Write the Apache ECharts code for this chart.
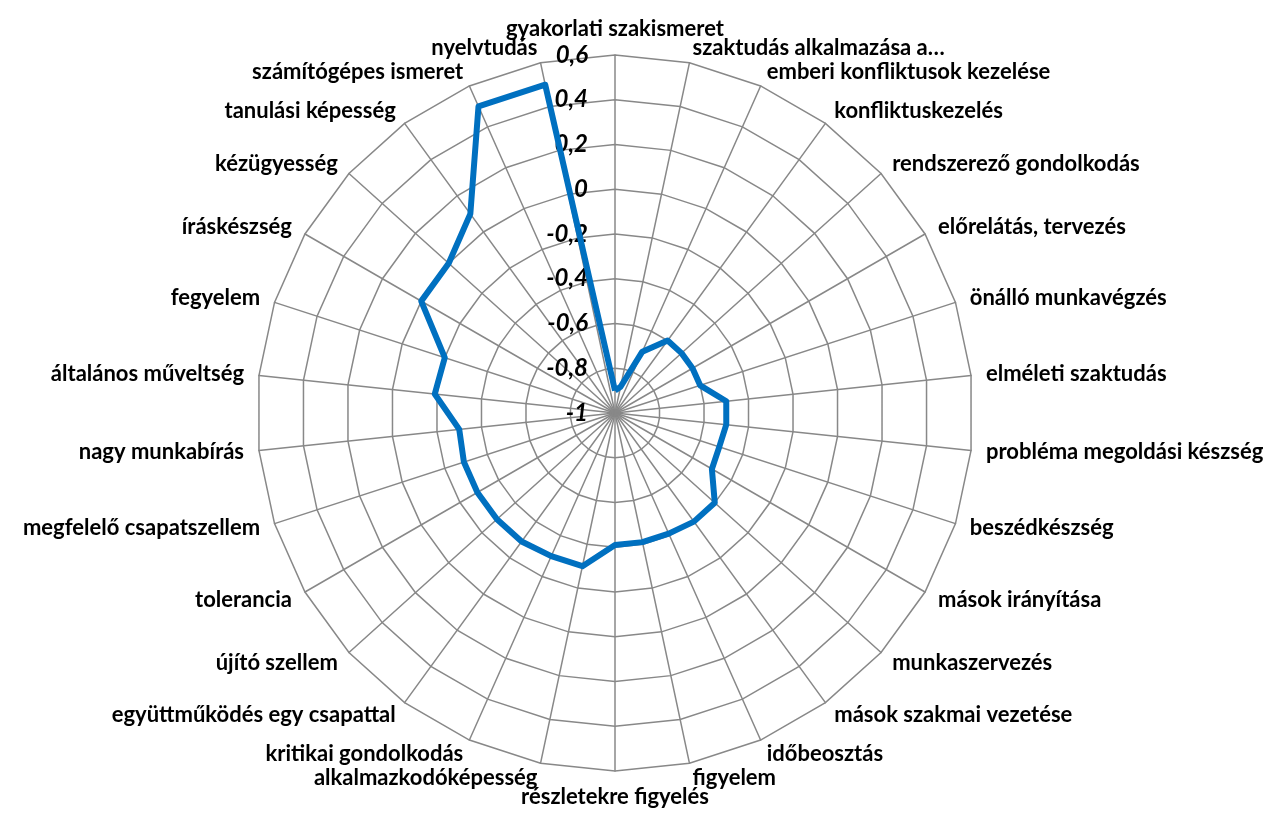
<!DOCTYPE html>
<html>
<head>
<meta charset="utf-8">
<script src="https://cdn.jsdelivr.net/npm/echarts@6/dist/echarts.min.js"></script>
<style>
html,body{margin:0;padding:0;background:#ffffff;}
#c{width:1275px;height:814px;}
</style>
</head>
<body>
<div id="c"></div>
<script>
// Categories in clockwise order starting from the top
const categories = [
  "gyakorlati szakismeret",
  "szaktudás alkalmazása a…",
  "emberi konfliktusok kezelése",
  "konfliktuskezelés",
  "rendszerező gondolkodás",
  "előrelátás, tervezés",
  "önálló munkavégzés",
  "elméleti szaktudás",
  "probléma megoldási készség",
  "beszédkészség",
  "mások irányítása",
  "munkaszervezés",
  "mások szakmai vezetése",
  "időbeosztás",
  "figyelem",
  "részletekre figyelés",
  "alkalmazkodóképesség",
  "kritikai gondolkodás",
  "együttműködés egy csapattal",
  "újító szellem",
  "tolerancia",
  "megfelelő csapatszellem",
  "nagy munkabírás",
  "általános műveltség",
  "fegyelem",
  "íráskészség",
  "kézügyesség",
  "tanulási képesség",
  "számítógépes ismeret",
  "nyelvtudás"
];

const values = [
  -0.90, -0.88, -0.70, -0.60, -0.60, -0.60, -0.60, -0.50, -0.50, -0.51,
  -0.50, -0.40, -0.40, -0.41, -0.41, -0.41, -0.30, -0.30, -0.29, -0.29,
  -0.29, -0.29, -0.30, -0.19, -0.20, 0.00, 0.00, 0.10, 0.50, 0.50
];

const axisMin = -1;
const axisMax = 0.6;
const splitCount = 8;

// ECharts places radar indicators counter-clockwise; reorder so the chart reads clockwise
const order = [0].concat(categories.map((_, i) => i).slice(1).reverse());
const indicator = order.map((idx, k) => {
  const o = { name: categories[idx], min: axisMin, max: axisMax };
  if (k === 0) o.axisLabel = { show: true };
  return o;
});
const seriesValues = order.map(idx => values[idx]);

const chart = echarts.init(document.getElementById('c'), null, { renderer: 'canvas' });
chart.setOption({
  animation: false,
  backgroundColor: '#ffffff',
  radar: {
    center: [615, 413],
    radius: 358,
    startAngle: 90,
    splitNumber: splitCount,
    shape: 'polygon',
    nameGap: 15,
    axisName: {
      color: '#000000',
      fontFamily: 'Lato',
      fontWeight: 'bold',
      fontSize: 22
    },
    axisLine: { lineStyle: { color: '#888888', width: 1.5 } },
    splitLine: { lineStyle: { color: '#888888', width: 1.5 } },
    splitArea: { show: false },
    axisTick: { show: false },
    axisLabel: {
      show: false,
      color: '#000000',
      fontFamily: 'Lato',
      fontWeight: 'bold',
      fontStyle: 'italic',
      fontSize: 24,
      margin: 27,
      padding: [6, 0, 0, 0],
      showMinLabel: true,
      showMaxLabel: true,
      formatter: function (v) {
        const r = Math.round(v * 10) / 10;
        return String(r).replace('.', ',');
      }
    },
    indicator: indicator
  },
  series: [{
    type: 'radar',
    symbol: 'none',
    silent: true,
    lineStyle: { color: '#0070C0', width: 6 },
    data: [{ value: seriesValues }]
  }]
});
</script>
</body>
</html>
